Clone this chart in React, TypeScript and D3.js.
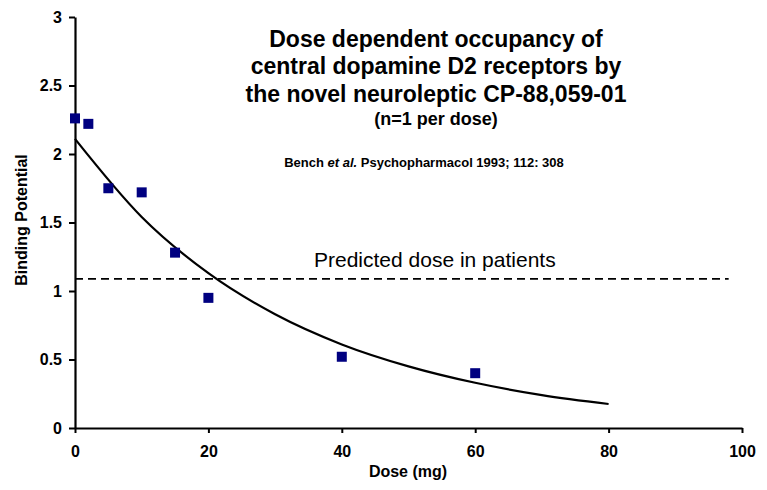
import React, { useRef, useEffect } from 'react';
import * as d3 from 'd3';

// measured doses (mg) and binding potential, one subject per dose
const doses = [0, 2, 5, 10, 15, 20, 40, 60];
const bindingPotential = [2.26, 2.22, 1.75, 1.72, 1.28, 0.95, 0.52, 0.40];

// fitted curve
const fitDoses = [0, 10, 20, 30, 40, 50, 60, 70, 80];
const fitValues = [2.11, 1.54, 1.13, 0.83, 0.61, 0.45, 0.33, 0.24, 0.175];

// predicted dose line
const predictedLevel = [1.088];
const predictedRange = [0, 98];

const xTicks = [0, 20, 40, 60, 80, 100];
const yTicks = [0, 0.5, 1, 1.5, 2, 2.5, 3];

const titleLines = [
    'Dose dependent occupancy of',
    'central dopamine D2 receptors by',
    'the novel neuroleptic CP-88,059-01',
];

const font = '"Liberation Sans", Arial, Helvetica, sans-serif';

const width = 767;
const height = 490;

const App = () => {
    const ref = useRef<SVGGElement | null>(null);

    var xScale = d3.scaleLinear().domain([0, 100]).range([75, 742]);
    var yScale = d3.scaleLinear().domain([0, 3]).range([428, 17]);

    useEffect(() => {
        const g = d3.select(ref.current);
        g.selectAll('*').remove();

        // y axis
        const yAxis = g.append('g')
            .attr('transform', 'translate(' + xScale(0) + ',0)')
            .call(d3.axisLeft(yScale).tickValues(yTicks).tickFormat(d3.format('')).tickSize(6).tickSizeOuter(0).tickPadding(7));
        // x axis
        const xAxis = g.append('g')
            .attr('transform', 'translate(0,' + yScale(0) + ')')
            .call(d3.axisBottom(xScale).tickValues(xTicks).tickSize(5).tickSizeOuter(0).tickPadding(13));

        [yAxis, xAxis].forEach(ax => {
            ax.select('.domain').attr('stroke', '#000').attr('stroke-width', 2.2);
            ax.selectAll('.tick line').attr('stroke', '#000').attr('stroke-width', 2);
            ax.selectAll('.tick text')
                .attr('fill', '#000')
                .style('font-family', font)
                .style('font-size', '16px')
                .style('font-weight', 'bold');
        });

        // predicted dose line
        g.append('line')
            .attr('x1', xScale(predictedRange[0]))
            .attr('x2', xScale(predictedRange[1]))
            .attr('y1', yScale(predictedLevel[0]))
            .attr('y2', yScale(predictedLevel[0]))
            .attr('stroke', '#000')
            .attr('stroke-width', 1.8)
            .attr('stroke-dasharray', '8,5');

        // fitted curve
        const line = d3.line<number>()
            .x((d, i) => xScale(fitDoses[i]))
            .y(d => yScale(d))
            .curve(d3.curveMonotoneX);
        g.append('path')
            .datum(fitValues)
            .attr('d', line)
            .attr('fill', 'none')
            .attr('stroke', '#000')
            .attr('stroke-width', 2.2);

        // data points
        g.selectAll('.pt')
            .data(doses)
            .enter()
            .append('rect')
            .attr('class', 'pt')
            .attr('x', d => xScale(d) - 5)
            .attr('y', (d, i) => yScale(bindingPotential[i]) - 5)
            .attr('width', 10)
            .attr('height', 10)
            .attr('fill', '#000080');
    }, []);

    return (
        <svg
            width={width}
            height={height}
            viewBox={'0 0 ' + width + ' ' + height}
            style={{ position: 'absolute', left: 0, top: 0, background: '#fff' }}
            fontFamily={font}
        >
            <g ref={ref}></g>
            <g textAnchor="middle" fontWeight="bold" fill="#000">
                {titleLines.map((t, i) => (
                    <text key={i} x={436} y={46.5 + i * 27.5} fontSize={23}>{t}</text>
                ))}
                <text x={436} y={125} fontSize={18}>(n=1 per dose)</text>
                <text x={424} y={167} fontSize={13}>
                    Bench <tspan fontStyle="italic">et al.</tspan> Psychopharmacol 1993; 112: 308
                </text>
                <text x={408} y={477} fontSize={16}>Dose (mg)</text>
                <text transform="translate(27,220) rotate(-90)" fontSize={16}>Binding Potential</text>
            </g>
            <text x={314} y={267} fontSize={21} fill="#000">Predicted dose in patients</text>
        </svg>
    );
};

export default App;
